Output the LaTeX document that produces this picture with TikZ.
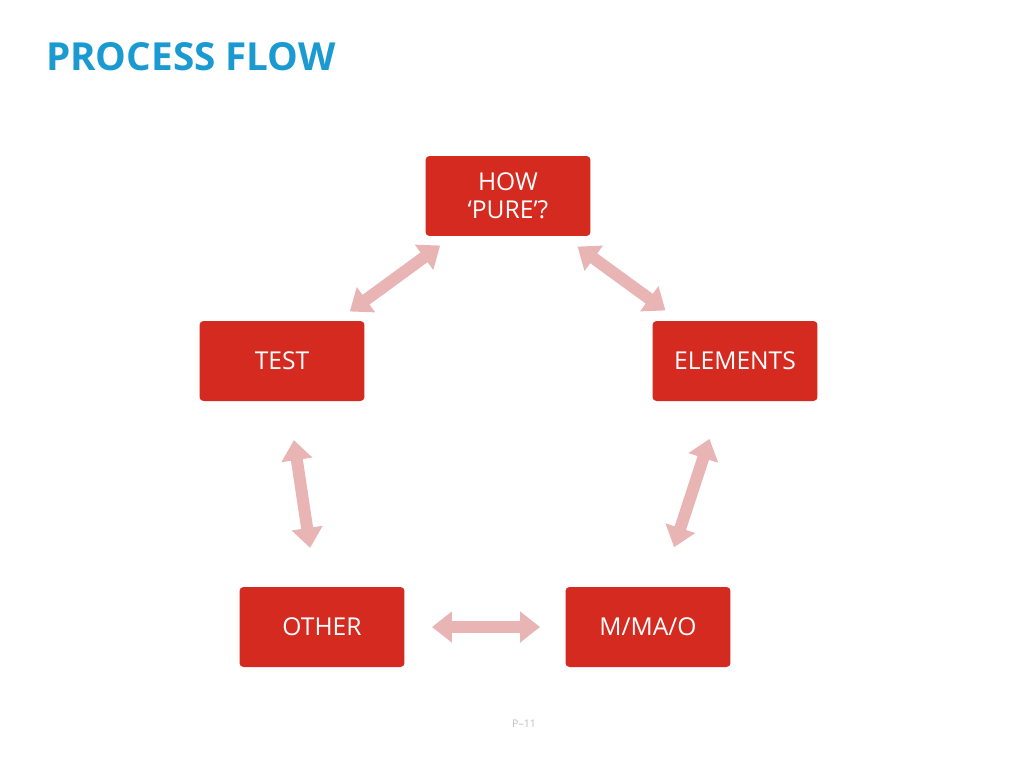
\documentclass[tikz,border=0pt]{standalone}
\usepackage{fontspec}
\setmainfont{Open Sans}
\usetikzlibrary{positioning,calc,arrows.meta}
\definecolor{boxred}{HTML}{D42A20}
\definecolor{linkpink}{HTML}{E8B4B4}
\definecolor{titleblue}{HTML}{1A9AD0}
\begin{document}
\begin{tikzpicture}[x=0.02cm, y=-0.02cm]
	\tikzstyle{stage}=[fill=boxred, text=white, rounded corners=0.08cm, minimum width=3.3cm, minimum height=1.6cm, align=center, font=\fontsize{14}{16}\selectfont, inner sep=0pt]
	\tikzstyle{link}=[linkpink, line width=0.24cm, {Triangle[width=0.6cm, length=0.4cm]}-{Triangle[width=0.6cm, length=0.4cm]}]

	\useasboundingbox (0,0) rectangle (1024,768);

	\node[anchor=west, text=titleblue, font=\fontsize{22}{24}\selectfont\bfseries] (title) at (40,57) {PROCESS FLOW};

	\node[stage] (how)  at (508,196) {HOW\\‘PURE’?};
	\node[stage] (test) at (282,361) {TEST};
	\node[stage] (elem) at (735,361) {ELEMENTS};
	\node[stage] (oth)  at (322,627) {OTHER};
	\node[stage] (mao)  at (648,627) {M/MA/O};

	\draw [link, shorten <=1.68cm, shorten >=1.68cm] (test.center) -- (how.center);
	\draw [link, shorten <=1.72cm, shorten >=1.72cm] (how.center) -- (elem.center);
	\draw [link, shorten <=1.6cm, shorten >=1.6cm] (test.center) -- (oth.center);
	\draw [link, shorten <=1.64cm, shorten >=1.68cm] (elem.center) -- (mao.center);
	\draw [link, shorten <=2.2cm, shorten >=2.16cm] (oth.center) -- (mao.center);

	\node[text=gray!50, font=\fontsize{6}{7}\selectfont] (page) at (524,724) {P--11};
\end{tikzpicture}
\end{document}
